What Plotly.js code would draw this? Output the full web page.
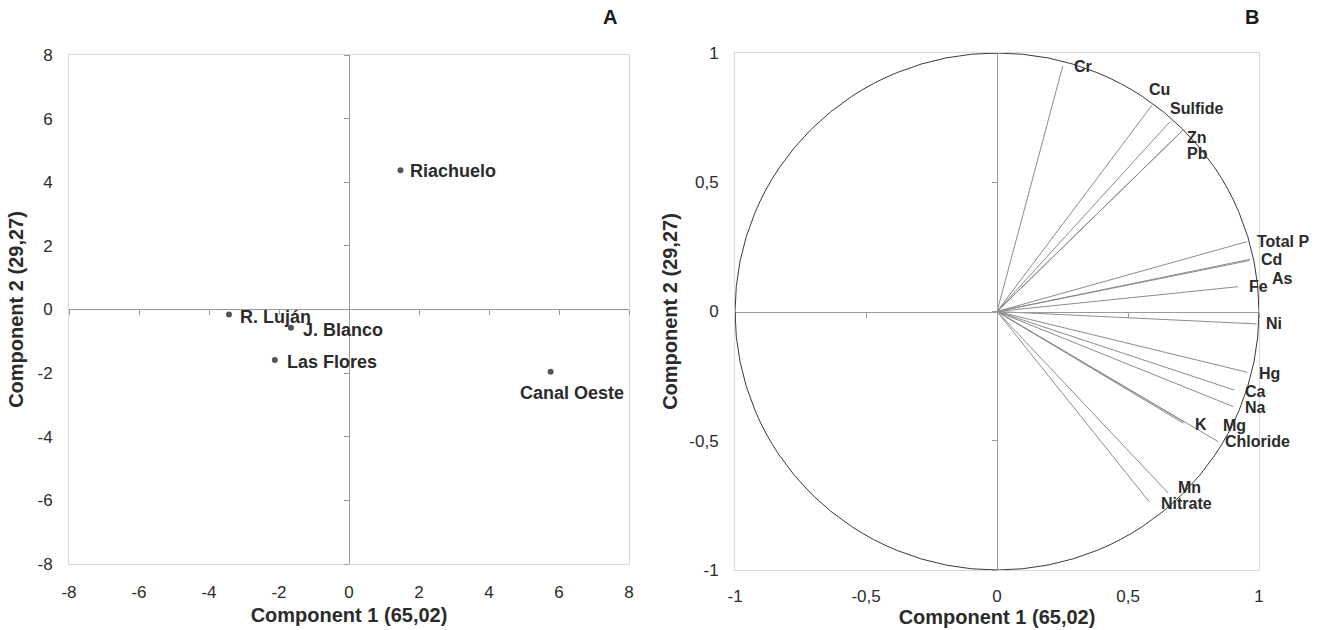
<!DOCTYPE html>
<html>
<head>
<meta charset="utf-8">
<script src="https://cdn.plot.ly/plotly-3.0.1.min.js"></script>
<style>html,body{margin:0;padding:0;background:#fff;}#chart{width:1318px;height:630px;}</style>
</head>
<body>
<div id="chart"></div>
<script>
// Panel A: site scores
const sites = ['Riachuelo', 'R. Luján', 'J. Blanco', 'Las Flores', 'Canal Oeste'];
const siteComp1 = [1.47, -3.43, -1.66, -2.12, 5.76];
const siteComp2 = [4.38, -0.16, -0.57, -1.59, -1.96];

// Panel B: variable loadings
const variables = ['Cr', 'Cu', 'Sulfide', 'Zn', 'Pb', 'Total P', 'Cd', 'As', 'Fe', 'Ni',
                   'Hg', 'Ca', 'Na', 'K', 'Mg', 'Chloride', 'Mn', 'Nitrate'];
const loadComp1 = [0.251, 0.592, 0.660, 0.710, 0.702, 0.953, 0.966, 0.963, 0.920, 0.991,
                   0.955, 0.906, 0.902, 0.711, 0.715, 0.845, 0.654, 0.581];
const loadComp2 = [0.950, 0.799, 0.734, 0.702, 0.694, 0.270, 0.202, 0.197, 0.096, -0.048,
                   -0.235, -0.304, -0.368, -0.432, -0.428, -0.504, -0.703, -0.736];

// Tick values / labels
const aTickVals = [-8, -6, -4, -2, 0, 2, 4, 6, 8];
const aTickText = ['-8', '-6', '-4', '-2', '0', '2', '4', '6', '8'];
const bTickVals = [-1, -0.5, 0, 0.5, 1];
const bTickText = ['-1', '-0,5', '0', '0,5', '1'];

// Axis titles
const xTitle = 'Component 1 (65,02)';
const yTitle = 'Component 2 (29,27)';

// ---- styling / label placement (pixels) ----
const siteLabelStyle = {
  'Riachuelo':   {dx: 8,  dy: 1,  anchor: 'left'},
  'R. Luján':    {dx: 9,  dy: 2,  anchor: 'left'},
  'J. Blanco':   {dx: 10, dy: 2,  anchor: 'left'},
  'Las Flores':  {dx: 10, dy: 2,  anchor: 'left'},
  'Canal Oeste': {dx: 21, dy: 21, anchor: 'center'}
};
const varLabelStyle = {
  'Cr': [9, 1], 'Cu': [-5, -15], 'Sulfide': [-2, -13], 'Zn': [2, 7], 'Pb': [4, 21],
  'Total P': [8, 0], 'Cd': [9, 0], 'As': [21, 18], 'Fe': [9, 0], 'Ni': [7, 0],
  'Hg': [10, 1], 'Ca': [9, 1], 'Na': [10, 1], 'K': [10, 1], 'Mg': [37, 3],
  'Chloride': [5, 0], 'Mn': [8, -6], 'Nitrate': [10, 2]
};

const FONT = 'Liberation Sans, Arial, sans-serif';
const TXT = '#2b2b2b';
const FRAME = '#d9d9d9';
const AXC = '#9a9a9a';

// vectors built from the loadings (origin -> loading, separated by gaps)
const vecX = [], vecY = [];
variables.forEach((v, i) => { vecX.push(0, loadComp1[i], null); vecY.push(0, loadComp2[i], null); });

const traces = [
  {type: 'scatter', mode: 'markers', x: siteComp1, y: siteComp2, xaxis: 'x', yaxis: 'y',
   marker: {color: '#555555', size: 6}, hoverinfo: 'skip'},
  {type: 'scatter', mode: 'lines', x: vecX, y: vecY, xaxis: 'x2', yaxis: 'y2',
   line: {color: '#8c8c8c', width: 1}, hoverinfo: 'skip'},
  {type: 'scatter', mode: 'lines', x: [], y: [], xaxis: 'x3', yaxis: 'y3'},
  {type: 'scatter', mode: 'lines', x: [], y: [], xaxis: 'x4', yaxis: 'y4'}
];

const domA = [0, 0.4706], domAy = [0.0116, 0.9961];
const domB = [0.5597, 1], domBy = [0, 1];

function frameAxis(extra) {
  return Object.assign({
    showline: true, mirror: true, linecolor: FRAME, linewidth: 1,
    showgrid: false, zeroline: false, ticks: '', fixedrange: true,
    tickfont: {family: FONT, size: 17, color: TXT},
    tickmode: 'array'
  }, extra);
}
function crossAxis(extra) {
  return Object.assign({
    anchor: 'free', showline: true, linecolor: AXC, linewidth: 1,
    showgrid: false, zeroline: false, ticks: 'outside', ticklen: 5, tickcolor: AXC,
    showticklabels: false, fixedrange: true, tickmode: 'array'
  }, extra);
}
const axTitleFont = {family: FONT, size: 20, color: TXT, weight: 700};

const annotations = [];
sites.forEach((s, i) => {
  const st = siteLabelStyle[s];
  annotations.push({x: siteComp1[i], y: siteComp2[i], xref: 'x', yref: 'y', text: s,
    showarrow: false, xanchor: st.anchor, yanchor: 'middle', xshift: st.dx, yshift: -st.dy,
    font: {family: FONT, size: 18, color: TXT, weight: 700}});
});
variables.forEach((v, i) => {
  const st = varLabelStyle[v];
  annotations.push({x: loadComp1[i], y: loadComp2[i], xref: 'x2', yref: 'y2', text: v,
    showarrow: false, xanchor: 'left', yanchor: 'middle', xshift: st[0], yshift: -st[1],
    font: {family: FONT, size: 16, color: TXT, weight: 700}});
});
annotations.push({x: 0.4546, y: 1.0696, xref: 'paper', yref: 'paper', text: 'A', showarrow: false,
  xanchor: 'center', yanchor: 'middle', font: {family: FONT, size: 20, color: '#1a1a1a', weight: 700}});
annotations.push({x: 0.9941, y: 1.0696, xref: 'paper', yref: 'paper', text: 'B', showarrow: false,
  xanchor: 'center', yanchor: 'middle', font: {family: FONT, size: 20, color: '#1a1a1a', weight: 700}});

const layout = {
  width: 1318, height: 630,
  margin: {l: 69, r: 59, t: 53, b: 60},
  paper_bgcolor: '#ffffff', plot_bgcolor: '#ffffff',
  showlegend: false,
  xaxis: frameAxis({domain: domA, anchor: 'y', range: [-8, 8], tickvals: aTickVals, ticktext: aTickText,
    ticklabelstandoff: 13, title: {text: xTitle, font: axTitleFont, standoff: 6}}),
  yaxis: frameAxis({domain: domAy, anchor: 'x', range: [-8, 8], tickvals: aTickVals, ticktext: aTickText,
    ticklabelstandoff: 12, title: {text: yTitle, font: axTitleFont, standoff: 8}}),
  xaxis2: frameAxis({domain: domB, anchor: 'y2', range: [-1, 1], tickvals: bTickVals, ticktext: bTickText,
    ticklabelstandoff: 11, title: {text: xTitle, font: axTitleFont, standoff: 2}}),
  yaxis2: frameAxis({domain: domBy, anchor: 'x2', range: [-1, 1], tickvals: bTickVals, ticktext: bTickText,
    ticklabelstandoff: 12, title: {text: yTitle, font: axTitleFont, standoff: 6}}),
  xaxis3: crossAxis({overlaying: 'x', domain: domA, position: 0.5039, range: [-8, 8], tickvals: aTickVals}),
  yaxis3: crossAxis({overlaying: 'y', domain: domAy, position: 0.2353, range: [-8, 8], tickvals: aTickVals}),
  xaxis4: crossAxis({overlaying: 'x2', domain: domB, position: 0.5, range: [-1, 1], tickvals: bTickVals}),
  yaxis4: crossAxis({overlaying: 'y2', domain: domBy, position: 0.7798, range: [-1, 1], tickvals: bTickVals}),
  shapes: [
    {type: 'circle', xref: 'x2', yref: 'y2', x0: -1, x1: 1, y0: -1, y1: 1,
     line: {color: '#3a3a3a', width: 1}, layer: 'above'}
  ],
  annotations: annotations
};

Plotly.newPlot('chart', traces, layout, {displayModeBar: false, staticPlot: true});
</script>
</body>
</html>
